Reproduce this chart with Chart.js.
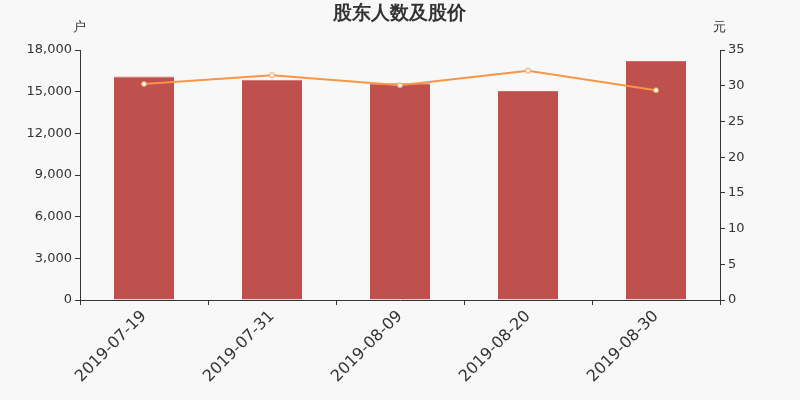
<!DOCTYPE html>
<html>
<head>
<meta charset="utf-8">
<script src="https://cdn.jsdelivr.net/npm/chart.js@4/dist/chart.umd.min.js"></script>
<style>
  html, body { margin: 0; padding: 0; background: #f8f8f8; }
  #wrap { width: 800px; height: 400px; }
</style>
</head>
<body>
<div id="wrap"><canvas id="myChart" width="800" height="400"></canvas></div>
<script>
  // 数据
  const dates = ['2019-07-19', '2019-07-31', '2019-08-09', '2019-08-20', '2019-08-30'];
  const holders = [16100, 15860, 15600, 15050, 17200];
  const prices = [30.24, 31.46, 30.05, 32.1, 29.36];
  const leftTicks = [0, 3000, 6000, 9000, 12000, 15000, 18000];
  const rightTicks = [0, 5, 10, 15, 20, 25, 30, 35];

  const font = 'DejaVu Sans';
  const textColor = '#333';

  // 标题和单位
  const headerPlugin = {
    id: 'header',
    afterDraw(chart) {
      const c = chart.ctx;
      c.save();
      c.fillStyle = textColor;
      c.textAlign = 'center';
      c.textBaseline = 'middle';
      c.font = 'bold 19px "' + font + '"';
      c.fillText('股东人数及股价', 399, 14);
      c.font = '13px "' + font + '"';
      c.fillText('户', 79, 28);
      c.fillText('元', 719, 28);
      c.restore();
    }
  };

  const ctx = document.getElementById('myChart');
  const myChart = new Chart(ctx, {
    data: {
      labels: dates,
      datasets: [
        {
          type: 'line',
          label: '股价',
          data: prices,
          yAxisID: 'y1',
          borderColor: '#f79646',
          borderWidth: 2,
          pointRadius: 2.5,
          pointBackgroundColor: '#ffffff',
          pointBorderColor: '#f79646',
          pointBorderWidth: 1,
          tension: 0,
          order: 0
        },
        {
          type: 'bar',
          label: '股东人数',
          data: holders,
          yAxisID: 'y',
          backgroundColor: '#c0504d',
          borderColor: '#c96a67',
          borderWidth: { top: 1, left: 0, right: 0, bottom: 0 },
          borderSkipped: 'bottom',
          barPercentage: 0.94,
          categoryPercentage: 0.5,
          order: 1
        }
      ]
    },
    options: {
      responsive: false,
      animation: false,
      layout: { padding: { top: 50, left: 0, right: 0, bottom: 0 } },
      plugins: { legend: { display: false }, tooltip: { enabled: false } },
      scales: {
        x: {
          offset: true,
          grid: { offset: true, drawOnChartArea: false, drawTicks: true, tickLength: 5, color: '#333' },
          border: { color: '#333', width: 1 },
          ticks: {
            color: textColor,
            font: { family: font, size: 16 },
            maxRotation: 45,
            minRotation: 45,
            padding: 2
          },
          afterFit(scale) { scale.height = 100; }
        },
        y: {
          position: 'left',
          min: 0,
          max: 18000,
          afterBuildTicks(scale) { scale.ticks = leftTicks.map(v => ({ value: v })); },
          grid: { drawOnChartArea: false, tickLength: 5, color: '#333' },
          border: { color: '#333', width: 1 },
          ticks: {
            color: textColor,
            font: { family: font, size: 13 },
            padding: 3,
            callback: v => v.toLocaleString('en-US')
          },
          afterFit(scale) { scale.width = 80; }
        },
        y1: {
          position: 'right',
          min: 0,
          max: 35,
          afterBuildTicks(scale) { scale.ticks = rightTicks.map(v => ({ value: v })); },
          grid: { drawOnChartArea: false, tickLength: 5, color: '#333' },
          border: { color: '#333', width: 1 },
          ticks: {
            color: textColor,
            font: { family: font, size: 13 },
            padding: 3
          },
          afterFit(scale) { scale.width = 80; }
        }
      }
    },
    plugins: [headerPlugin]
  });
</script>
</body>
</html>
